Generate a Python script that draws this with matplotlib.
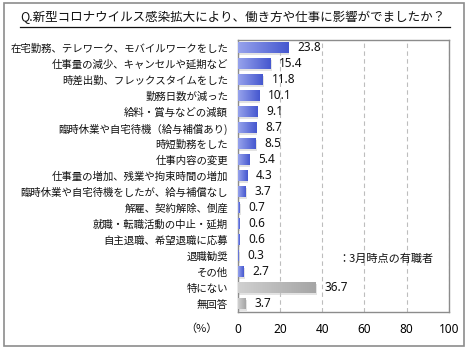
import matplotlib
matplotlib.use("Agg")
import matplotlib.pyplot as plt
import numpy as np
from matplotlib.colors import LinearSegmentedColormap
from matplotlib.patches import Rectangle
from matplotlib.lines import Line2D

plt.rcParams['font.family'] = ['Noto Sans CJK JP', 'DejaVu Sans']

title = "Q.新型コロナウイルス感染拡大により、働き方や仕事に影響がでましたか？"
categories = [
    "在宅勤務、テレワーク、モバイルワークをした",
    "仕事量の減少、キャンセルや延期など",
    "時差出勤、フレックスタイムをした",
    "勤務日数が減った",
    "給料・賞与などの減額",
    "臨時休業や自宅待機（給与補償あり)",
    "時短勤務をした",
    "仕事内容の変更",
    "仕事量の増加、残業や拘束時間の増加",
    "臨時休業や自宅待機をしたが、給与補償なし",
    "解雇、契約解除、倒産",
    "就職・転職活動の中止・延期",
    "自主退職、希望退職に応募",
    "退職勧奨",
    "その他",
    "特にない",
    "無回答",
]
values = [23.8, 15.4, 11.8, 10.1, 9.1, 8.7, 8.5, 5.4, 4.3, 3.7, 0.7, 0.6, 0.6, 0.3, 2.7, 36.7, 3.7]
value_labels = ["23.8", "15.4", "11.8", "10.1", "9.1", "8.7", "8.5", "5.4", "4.3", "3.7",
                "0.7", "0.6", "0.6", "0.3", "2.7", "36.7", "3.7"]
is_gray = [False] * 15 + [True, True]
xticks = [0, 20, 40, 60, 80, 100]
legend_note = "：3月時点の有職者"

fig = plt.figure(figsize=(4.7, 3.5), dpi=100)
ax = fig.add_axes([0.506, 0.109, 0.449, 0.777])

y = np.arange(len(categories))
blue_cmap = LinearSegmentedColormap.from_list("b", ["#97a3ec", "#4557cf"])
gray_cmap = LinearSegmentedColormap.from_list("g", ["#d0d0d0", "#a5a5a5"])

# shadows
ax.barh(y + 0.08, [v + 0.6 for v in values], height=0.7, color="#c8c8c8", alpha=0.5, zorder=2)
bars = ax.barh(y, values, height=0.7, color="#5566d6", zorder=3)
grad = np.linspace(0, 1, 256).reshape(1, -1)
for b, g in zip(bars, is_gray):
    x0, y0 = b.get_x(), b.get_y()
    w, h = b.get_width(), b.get_height()
    im = ax.imshow(grad, cmap=gray_cmap if g else blue_cmap, aspect="auto",
                   extent=[x0, x0 + w, y0 + h, y0], zorder=4, interpolation="bilinear")
    im.set_clip_path(b)

num_font = ['Noto Sans', 'DejaVu Sans']
for yi, v, lab in zip(y, values, value_labels):
    ax.text(v + 4.2, yi, lab, va="center", ha="left", fontsize=8.5, color="#111111",
            zorder=5, family=num_font)

ax.set_xlim(0, 100)
ax.set_ylim(len(categories) - 0.5, -0.5)
ax.set_xticks(xticks)
ax.set_xticklabels([str(t) for t in xticks], fontsize=8.5, family=num_font)
ax.set_yticks(y)
ax.set_yticklabels(categories, fontsize=7.5)
ax.tick_params(axis="both", length=0)
ax.tick_params(axis="x", pad=8)
ax.tick_params(axis="y", pad=7)
for t in ax.get_yticklabels():
    t.set_color("#111111")
ax.xaxis.grid(True, linestyle=(0, (4, 3)), color="#bdbdbd", linewidth=0.8, zorder=0)
ax.set_axisbelow(True)
for s in ax.spines.values():
    s.set_color("#8c8c8c")
    s.set_linewidth(1.0)

fig.text(218 / 470, 1 - 329 / 350, "（%）", ha="right", va="center", fontsize=8, color="#111111")
ax.text(70, 13.2, legend_note, ha="center", va="center", fontsize=8, color="#111111", zorder=5)

# title with underline
fig.text(20 / 470, 1 - 17 / 350, title, ha="left", va="center", fontsize=9, color="#111111")
fig.add_artist(Line2D([20 / 470, 450 / 470], [1 - 27 / 350, 1 - 27 / 350], color="#111111", linewidth=0.9))

# outer frame
fig.add_artist(Rectangle((4 / 470, 4 / 350), 460 / 470, 343 / 350, fill=False,
                         edgecolor="#8c8c8c", linewidth=1.2, transform=fig.transFigure))

fig.savefig("out.png", dpi=100)
